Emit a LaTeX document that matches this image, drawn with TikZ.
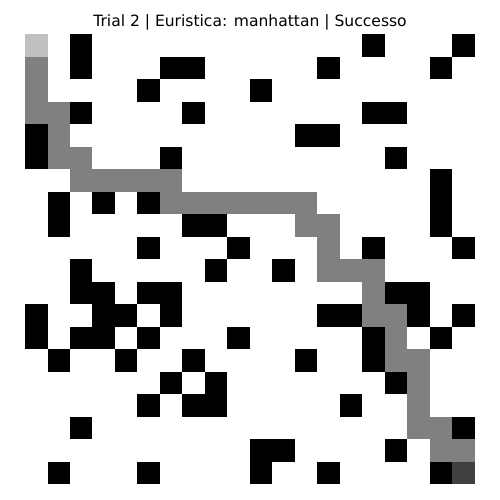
\documentclass[tikz,border=0pt]{standalone}
\usepackage{fontspec}
\setmainfont{DejaVu Sans}
\usepackage{tikz}
\usepackage{xcolor}
\definecolor{gridwall}{HTML}{000000}
\definecolor{gridpath}{HTML}{808080}
\definecolor{gridstart}{HTML}{C0C0C0}
\definecolor{gridgoal}{HTML}{404040}
\tikzset{
  wallcell/.style={fill=gridwall},
  pathcell/.style={fill=gridpath},
  startcell/.style={fill=gridstart},
  goalcell/.style={fill=gridgoal},
  plottitle/.style={anchor=base, font=\fontsize{11.2}{13}\selectfont, inner sep=0pt}
}

\begin{document}
\begin{tikzpicture}[x=0.72pt, y=-0.72pt]
\useasboundingbox (0,0) rectangle (500,500);
\node[plottitle] (title) at (250,26.5) {Trial 2 | Euristica: manhattan | Successo};
\begin{scope}[shift={(25,34)}, x=16.2pt, y=-16.2pt]
% obstacles, row / columns
\foreach \r/\cs in {0/{2,15,19}, 1/{2,6,7,13,18}, 2/{5,10}, 3/{2,7,15,16},
    4/{0,12,13}, 5/{0,6,16}, 6/{18}, 7/{1,3,5,18}, 8/{1,7,8,18},
    9/{5,9,15,19}, 10/{2,8,11}, 11/{2,3,5,6,16,17},
    12/{0,3,4,6,13,14,17,19}, 13/{0,2,3,5,9,15,18}, 14/{1,4,7,12,15},
    15/{6,8,16}, 16/{5,7,8,14}, 17/{2,19}, 18/{10,11,16}, 19/{1,5,10,13,18}}
  \foreach \c in \cs
    \fill[wallcell] (\c,\r) rectangle ++(1,1);
% path found
\foreach \r/\cs in {1/{0}, 2/{0}, 3/{0,1}, 4/{1}, 5/{1,2}, 6/{2,3,4,5,6},
    7/{6,7,8,9,10,11,12}, 8/{12,13}, 9/{13}, 10/{13,14,15}, 11/{15},
    12/{15,16}, 13/{16}, 14/{16,17}, 15/{17}, 16/{17}, 17/{17,18}, 18/{18,19}}
  \foreach \c in \cs
    \fill[pathcell] (\c,\r) rectangle ++(1,1);
\fill[startcell] (0,0) rectangle ++(1,1);
\fill[goalcell] (19,19) rectangle ++(1,1);
\end{scope}
\end{tikzpicture}
\end{document}
